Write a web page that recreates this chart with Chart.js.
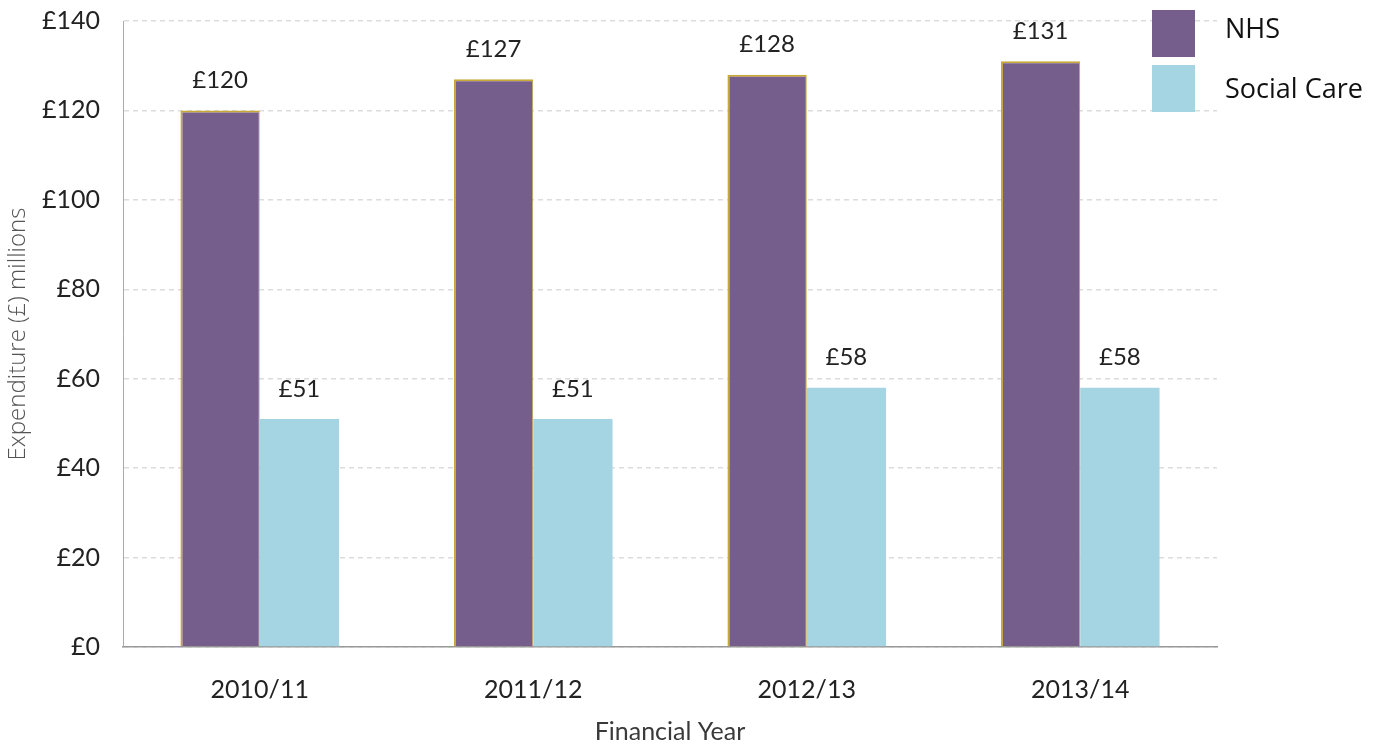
<!DOCTYPE html>
<html>
<head>
<meta charset="utf-8">
<title>Expenditure by financial year</title>
<script src="https://cdn.jsdelivr.net/npm/chart.js@4/dist/chart.umd.min.js"></script>
<style>
  html, body { margin:0; padding:0; background:#fff; }
  #wrap { position:relative; width:1380px; height:747px; }
</style>
</head>
<body>
<div id="wrap"><canvas id="spendChart" width="1380" height="747"></canvas></div>
<script>
/* data */
const years = ['2010/11', '2011/12', '2012/13', '2013/14'];
const nhsSpend = [120, 127, 128, 131];
const socialCareSpend = [51, 51, 58, 58];
const seriesNames = ['NHS', 'Social Care'];
const seriesColors = ['#765e8c', '#a5d5e3'];

const bodyFamily = 'Lato, "Open Sans", sans-serif';
const tickFont = { family: bodyFamily, size: 25 };

/* value labels above each bar */
const barLabels = {
  id: 'barLabels',
  afterDatasetsDraw(chart) {
    const ctx = chart.ctx;
    ctx.save();
    ctx.font = '24px ' + bodyFamily;
    ctx.fillStyle = '#222';
    ctx.textAlign = 'center';
    ctx.textBaseline = 'middle';
    chart.data.datasets.forEach((ds, i) => {
      chart.getDatasetMeta(i).data.forEach((bar, j) => {
        ctx.fillText('£' + ds.data[j], bar.x, bar.y - 30);
      });
    });
    ctx.restore();
  }
};

/* square legend in the top-right corner */
const cornerLegend = {
  id: 'cornerLegend',
  afterDraw(chart) {
    const ctx = chart.ctx;
    ctx.save();
    ctx.font = '27px "Open Sans", "Noto Sans", sans-serif';
    ctx.textBaseline = 'middle';
    ctx.textAlign = 'left';
    chart.data.datasets.forEach((ds, i) => {
      const top = 10 + i * 55;
      ctx.fillStyle = ds.backgroundColor;
      ctx.fillRect(1152, top, 43, 47);
      ctx.fillStyle = '#111';
      ctx.fillText(ds.label, 1225, 30 + i * 60);
    });
    ctx.restore();
  }
};

new Chart(document.getElementById('spendChart'), {
  type: 'bar',
  data: {
    labels: years,
    datasets: [
      { label: seriesNames[0], data: nhsSpend, backgroundColor: seriesColors[0],
        borderColor: '#c9a83a', borderWidth: { top: 2, left: 2, right: 1, bottom: 0 }, borderSkipped: false },
      { label: seriesNames[1], data: socialCareSpend, backgroundColor: seriesColors[1], borderWidth: 0 }
    ]
  },
  options: {
    responsive: false,
    animation: false,
    layout: { padding: { top: 21, right: 163, left: 0, bottom: 0 } },
    datasets: { bar: { categoryPercentage: 0.58, barPercentage: 1 } },
    plugins: { legend: { display: false }, tooltip: { enabled: false } },
    scales: {
      x: {
        grid: { display: false },
        border: { color: '#999', width: 1.5 },
        ticks: { font: tickFont, color: '#222', padding: 20 },
        title: { display: true, text: 'Financial Year', color: '#3a3a3a',
                 font: { family: bodyFamily, size: 25 }, padding: { top: 20, bottom: 0 } },
        afterFit: s => { s.height = 100; s.paddingLeft = 0; s.paddingRight = 0; }
      },
      y: {
        min: 0, max: 140,
        ticks: { stepSize: 20, font: tickFont, color: '#222', padding: 23, callback: v => '£' + v },
        grid: { color: '#dcdcdc', lineWidth: 1.5, drawTicks: false },
        border: { color: '#aaa', dash: [5, 4], width: 1 },
        title: { display: true, text: 'Expenditure (£) millions', color: '#555',
                 font: { family: '"Open Sans", "Noto Sans", sans-serif', size: 24, weight: 300 }, padding: { bottom: 4 } },
        afterFit: s => { s.width = 123; s.paddingTop = 0; s.paddingBottom = 0; }
      }
    }
  },
  plugins: [barLabels, cornerLegend]
});
</script>
</body>
</html>
